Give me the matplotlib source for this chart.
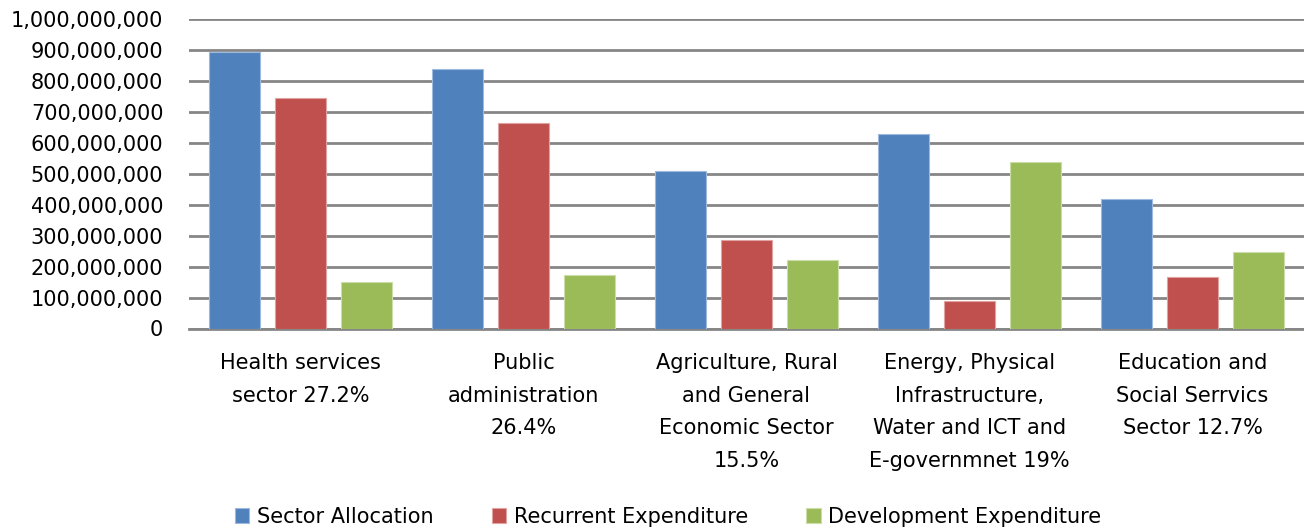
import numpy as np
import matplotlib
matplotlib.use("Agg")
import matplotlib.pyplot as plt
from matplotlib.ticker import FuncFormatter

categories = ["Health services\nsector 27.2%",
              "Public\nadministration\n26.4%",
              "Agriculture, Rural\nand General\nEconomic Sector\n15.5%",
              "Energy, Physical\nInfrastructure,\nWater and ICT and\nE-governmnet 19%",
              "Education and\nSocial Serrvics\nSector 12.7%"]
sector_allocation = [894e6, 838e6, 509e6, 628e6, 418e6]
recurrent_expenditure = [744e6, 664e6, 287e6, 88e6, 167e6]
development_expenditure = [149e6, 172e6, 220e6, 537e6, 248e6]

SERIES = [("Sector Allocation", sector_allocation, "#4F81BD", "#9DB9DE"),
          ("Recurrent Expenditure", recurrent_expenditure, "#C0504D", "#E0A3A1"),
          ("Development Expenditure", development_expenditure, "#9BBB59", "#CBDDA9")]

plt.rcParams["font.family"] = "DejaVu Sans"
fig = plt.figure(figsize=(13.04, 5.31), dpi=100)
ax = fig.add_axes([189 / 1304, 1 - 328.5 / 531, 1 - 189 / 1304, (328.5 - 19.3) / 531])

x = np.arange(len(categories))
w = 0.233
pitch = 0.296
handles = []
for i, (lab, vals, col, edge) in enumerate(SERIES):
    h = ax.bar(x + (i - 1) * pitch, vals, width=w, color=col, edgecolor=edge,
               linewidth=0.8, label=lab, zorder=3)
    handles.append(h)

ax.set_xlim(-0.5, len(categories) - 0.5)
ax.set_ylim(0, 1e9)
ax.set_yticks(np.arange(0, 1e9 + 1, 1e8))
ax.yaxis.set_major_formatter(FuncFormatter(lambda v, p: f"{int(v):,}"))
ax.grid(axis="y", color="#868686", lw=2, zorder=0)
ax.set_axisbelow(True)
for s in ("top", "right", "left"):
    ax.spines[s].set_visible(False)
ax.spines["bottom"].set_color("#868686")
ax.spines["bottom"].set_linewidth(2)
ax.set_xticks(x)
ax.set_xticklabels(categories, fontsize=15, linespacing=1.8, va="top")
ax.tick_params(axis="x", length=0, pad=17.5)
ax.tick_params(axis="y", length=0, pad=18.5, labelsize=15)

fig.legend(handles=handles, loc="center", bbox_to_anchor=(668 / 1304, 14 / 531),
           ncol=3, frameon=False, fontsize=15, handlelength=0.7, handleheight=0.7,
           handletextpad=0.35, columnspacing=2.8)

fig.savefig("out.png", dpi=100)
